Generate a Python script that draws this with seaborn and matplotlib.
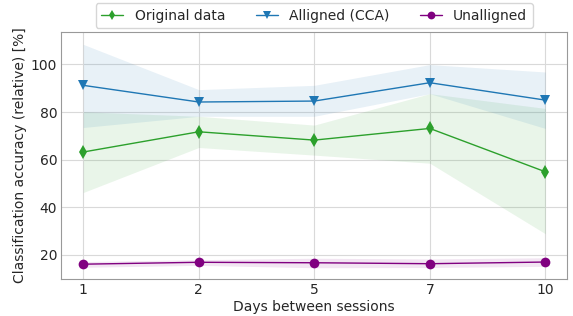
import matplotlib
matplotlib.use("Agg")
import matplotlib.pyplot as plt
import seaborn as sns
import pandas as pd

days = ["1", "2", "5", "7", "10"]

orig_mean = [63.2, 71.7, 68.2, 73.1, 54.9]
orig_low = [46.2, 65.1, 61.9, 58.5, 28.9]
orig_high = [80.1, 78.2, 74.5, 87.7, 81.5]

cca_mean = [91.2, 84.2, 84.6, 92.3, 85.0]
cca_low = [73.5, 78.2, 78.2, 87.7, 73.1]
cca_high = [108.4, 89.4, 91.2, 99.9, 96.8]

unal_mean = [16.1, 16.9, 16.7, 16.3, 17.0]
unal_low = [14.8, 15.6, 14.6, 14.7, 15.2]
unal_high = [17.2, 18.0, 18.6, 18.3, 18.8]

series = [
    ("Original data", orig_mean, orig_low, orig_high, "#2ca02c", "d"),
    ("Alligned (CCA)", cca_mean, cca_low, cca_high, "#1f77b4", "v"),
    ("Unalligned", unal_mean, unal_low, unal_high, "purple", "o"),
]

sns.set_style("whitegrid", {"axes.edgecolor": "#999999", "grid.color": "#d9d9d9"})
plt.rcParams["font.family"] = ["DejaVu Sans"]

fig, ax = plt.subplots(figsize=(5.73, 3.16), dpi=100)
for name, mean, lo, hi, col, mk in series:
    df = pd.DataFrame({"day": days, "acc": mean})
    sns.lineplot(data=df, x="day", y="acc", ax=ax, color=col, marker=mk,
                 markersize=7, markeredgewidth=0, linewidth=1, label=name)
    ax.fill_between(days, lo, hi, color=col, alpha=0.1, linewidth=0)

ax.set_xlim(-0.19, 4.19)
ax.set_ylim(10, 113.5)
ax.set_yticks([20, 40, 60, 80, 100])
ax.tick_params(labelsize=10, length=0, pad=3)
ax.set_xlabel("Days between sessions", fontsize=10, labelpad=2)
ax.set_ylabel("Classification accuracy (relative) [%]", fontsize=10, labelpad=3)
ax.legend(loc="lower center", bbox_to_anchor=(0.5, 1.0), ncol=3, fontsize=10,
          frameon=True, borderaxespad=0.3, handlelength=1.6, columnspacing=2.2,
          markerscale=0.8)
fig.subplots_adjust(left=0.107, right=0.99, top=0.898, bottom=0.118)
fig.savefig("out.png", dpi=100)
